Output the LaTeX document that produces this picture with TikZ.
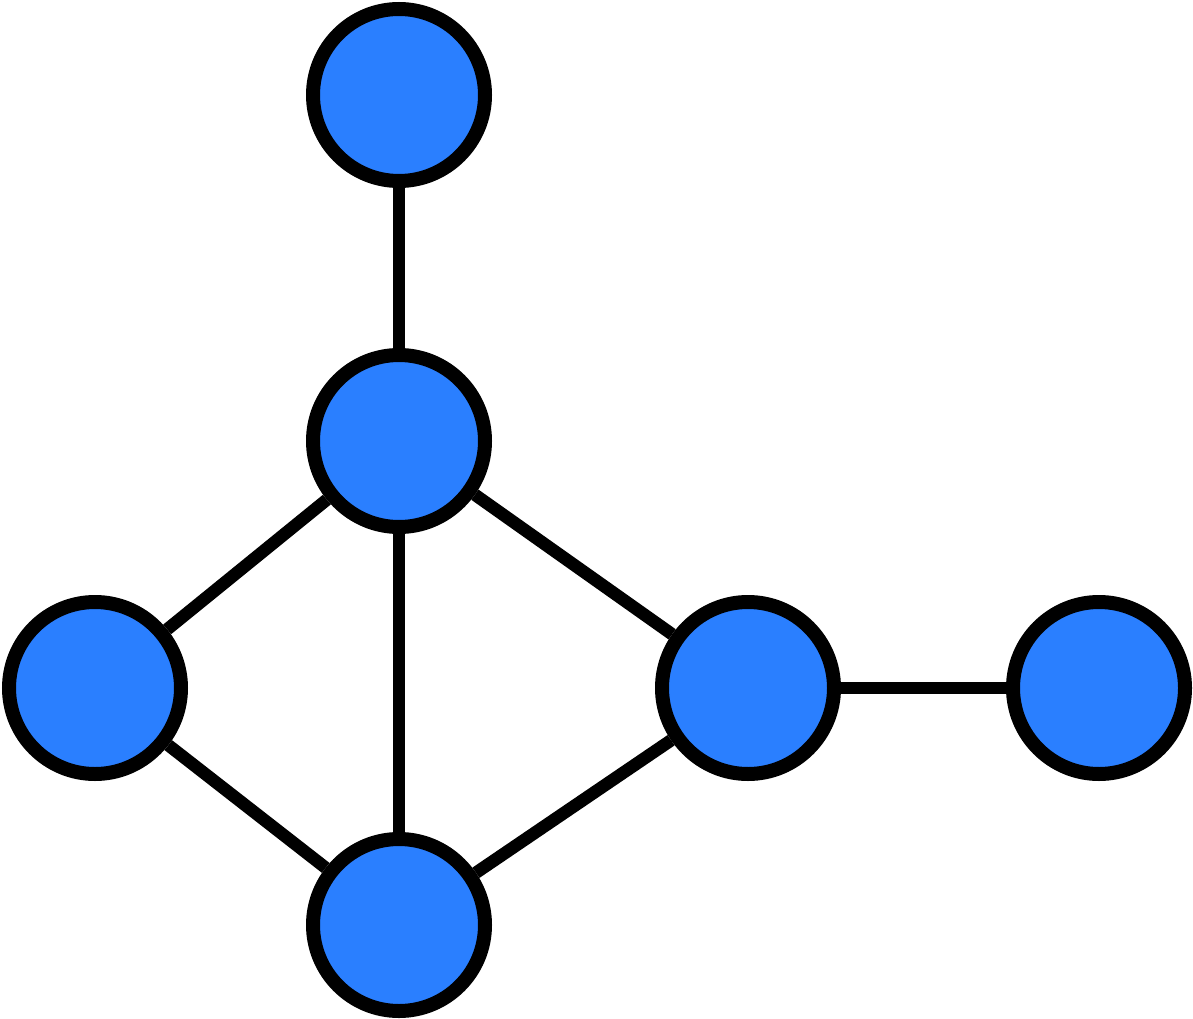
\documentclass[tikz,border=0pt]{standalone}
\definecolor{nodeblue}{RGB}{42,127,255}
\begin{document}
\begin{tikzpicture}[x=1pt,y=-1pt,
  vert/.style={circle,draw=black,fill=nodeblue,line width=14pt,minimum size=172pt,inner sep=0pt},
  edge/.style={draw=black,line width=12.5pt}]
\useasboundingbox (0,0) rectangle (1193,1019);
\node[vert] (top) at (399,95) {};
\node[vert] (mid) at (399,441) {};
\node[vert] (left) at (95,688) {};
\node[vert] (bot) at (399,925) {};
\node[vert] (right) at (748,688) {};
\node[vert] (far) at (1099,688) {};
\draw[edge] (top) -- (mid);
\draw[edge] (mid) -- (left);
\draw[edge] (mid) -- (bot);
\draw[edge] (mid) -- (right);
\draw[edge] (left) -- (bot);
\draw[edge] (bot) -- (right);
\draw[edge] (right) -- (far);
\end{tikzpicture}
\end{document}
